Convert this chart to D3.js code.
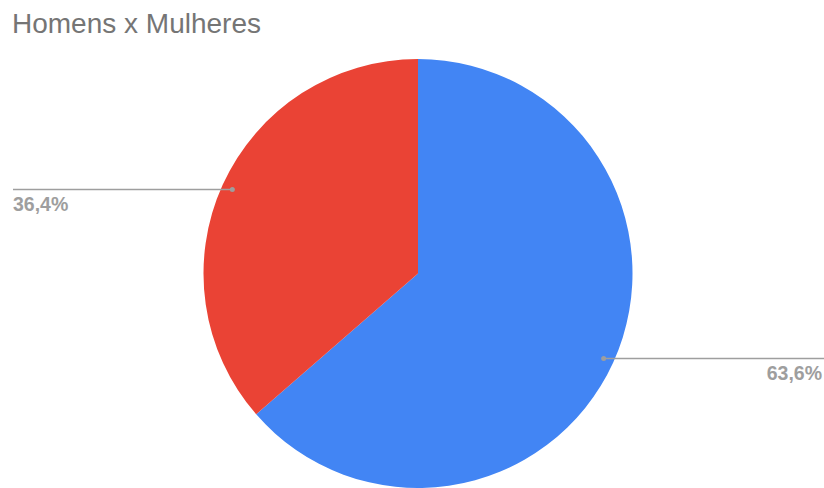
<!DOCTYPE html>
<html><head><meta charset="utf-8">
<script src="https://cdn.jsdelivr.net/npm/d3@7"></script>
<style>body{margin:0;background:#fff}svg{display:block}</style>
</head><body>
<svg id="c" width="824" height="488"></svg>
<script>
const categories = ["Homens", "Mulheres"];
const values = [63.6, 36.4];
const labels = ["63,6%", "36,4%"];
const colors = ["#4285f4", "#ea4335"];

const svg = d3.select("#c");
const W = 824, H = 488, cx = 418, cy = 273.5, R = 214.5;

svg.append("text").attr("x", 12).attr("y", 33)
  .attr("font-family", "Arial, 'Liberation Sans', sans-serif").attr("font-size", 28)
  .attr("fill", "#757575").text("Homens x Mulheres");

const pie = d3.pie().sort(null).value(d => d)(values);
const arc = d3.arc().innerRadius(0).outerRadius(R);
const g = svg.append("g").attr("transform", `translate(${cx},${cy})`);
g.selectAll("path").data(pie).join("path").attr("d", arc)
  .attr("fill", (d, i) => colors[i]);

const dotArc = d3.arc().innerRadius(204).outerRadius(204);
pie.forEach((d, i) => {
  const [x, y] = dotArc.centroid(d);
  const px = cx + x, py = cy + y;
  const right = x > 0;
  const ly = Math.round(py) + 0.5;
  svg.append("line").attr("x1", px).attr("y1", ly)
    .attr("x2", right ? W : 13).attr("y2", ly)
    .attr("stroke", "#9e9e9e").attr("stroke-width", 1.5);
  svg.append("circle").attr("cx", px).attr("cy", ly).attr("r", 2.5).attr("fill", "#9e9e9e");
  svg.append("text").attr("x", right ? W - 2 : 13).attr("y", ly + 21.5)
    .attr("text-anchor", right ? "end" : "start")
    .attr("font-family", "Arial, 'Liberation Sans', sans-serif").attr("font-size", 19.5)
    .attr("font-weight", "bold").attr("fill", "#9e9e9e").text(labels[i]);
});
</script>
</body></html>
